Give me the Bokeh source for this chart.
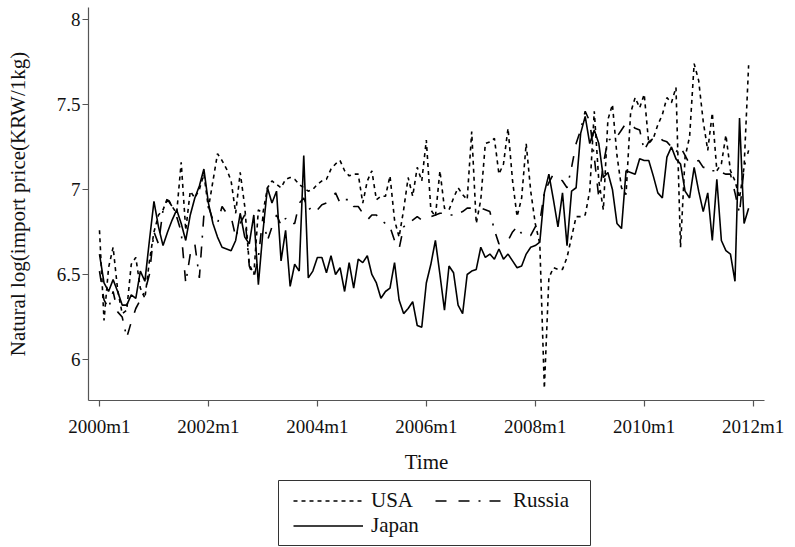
from bokeh.plotting import figure
from bokeh.models import Legend, LegendItem, FixedTicker, Range1d
from bokeh.layouts import column
from bokeh.embed import file_html
from bokeh.resources import INLINE

# ---- data (monthly, 2000m1 .. 2011m12) ----
usa = [
    6.76, 6.23, 6.54, 6.66, 6.41, 6.27, 6.29, 6.56, 6.60, 6.42, 6.36, 6.58,
    6.75, 6.85, 6.88, 6.95, 6.90, 6.86, 7.16, 6.76, 6.99, 6.95, 7.00, 7.09,
    6.89, 7.05, 7.21, 7.17, 7.12, 7.05, 6.86, 7.10, 6.90, 6.56, 6.50, 6.88,
    6.86, 7.01, 7.05, 7.03, 7.01, 7.06, 7.07, 7.06, 7.03, 7.01, 6.99, 7.00,
    7.03, 7.05, 7.06, 7.12, 7.15, 7.17, 7.11, 7.08, 7.09, 7.09, 6.92, 7.05,
    7.11, 6.94, 6.96, 6.96, 7.08, 6.82, 6.72, 6.88, 7.07, 6.96, 7.13, 7.05,
    7.29, 6.88, 6.84, 7.11, 6.89, 6.88, 6.95, 7.01, 6.97, 6.94, 7.34, 6.80,
    6.94, 7.27, 7.28, 7.30, 7.09, 7.15, 7.36, 7.05, 6.84, 6.95, 7.27, 6.99,
    6.80, 6.68, 5.83, 6.48, 6.54, 6.53, 6.53, 6.60, 6.72, 6.84, 6.84, 6.85,
    6.99, 7.46, 7.05, 6.88, 7.41, 7.50, 7.20, 7.01, 6.97, 7.45, 7.54, 7.48,
    7.56, 7.27, 7.30, 7.38, 7.44, 7.54, 7.51, 7.60, 6.66, 7.19, 7.31, 7.74,
    7.64, 7.40, 7.23, 7.45, 7.11, 7.15, 7.32, 7.11, 7.05, 6.95, 7.13, 7.73,
]
russia = [
    6.52, 6.35, 6.30, 6.40, 6.28, 6.25, 6.13, 6.22, 6.30, 6.35, 6.40, 6.50,
    6.75, 6.68, 6.88, 6.94, 6.90, 6.84, 6.75, 6.45, 6.62, 6.68, 6.48, 6.85,
    6.90, 6.82, 6.80, 6.90, 6.86, 6.84, 6.72, 6.80, 6.85, 6.55, 6.48, 6.60,
    6.84, 6.70, 6.78, 6.85, 6.79, 6.83, 6.80, 6.80, 6.92, 6.95, 6.88, 6.90,
    6.88, 6.91, 6.92, 6.94, 6.98, 6.92, 6.94, 6.94, 6.90, 6.90, 6.86, 6.82,
    6.85, 6.85, 6.82, 6.80, 6.78, 6.70, 6.65, 6.78, 6.80, 6.82, 6.84, 6.82,
    6.84, 6.84, 6.85, 6.86, 6.86, 6.85, 6.85, 6.86, 6.87, 6.89, 6.89, 6.89,
    6.89, 6.88, 6.87, 6.76, 6.68, 6.70, 6.70, 6.75, 6.78, 6.74, 6.73, 6.73,
    6.78, 6.81, 6.98, 7.04, 7.09, 7.07, 7.05, 7.01, 7.13, 7.27, 7.35, 7.46,
    7.40, 7.19, 6.95, 7.15, 7.29, 7.30, 7.31, 7.35, 7.39, 7.38, 7.36, 7.35,
    7.23, 7.28, 7.30, 7.32, 7.29, 7.28, 7.25, 7.22, 7.25, 7.20, 7.15, 7.16,
    7.17, 7.13, 7.13, 7.11, 7.11, 7.10, 7.09, 7.09, 6.98, 6.86, 7.13, 7.23,
]
japan = [
    6.62, 6.45, 6.40, 6.47, 6.40, 6.32, 6.32, 6.38, 6.36, 6.52, 6.46, 6.70,
    6.93, 6.78, 6.67, 6.75, 6.82, 6.88, 6.80, 6.70, 6.85, 6.95, 7.02, 7.12,
    6.92, 6.80, 6.72, 6.66, 6.65, 6.64, 6.70, 6.86, 6.72, 6.68, 6.85, 6.44,
    6.75, 7.01, 6.92, 6.99, 6.58, 6.76, 6.43, 6.56, 6.52, 7.20, 6.48, 6.52,
    6.60, 6.60, 6.51, 6.61, 6.50, 6.54, 6.40, 6.57, 6.42, 6.59, 6.57, 6.61,
    6.50, 6.45, 6.36, 6.40, 6.42, 6.57, 6.35, 6.27, 6.30, 6.34, 6.20, 6.19,
    6.45, 6.56, 6.70, 6.50, 6.29, 6.55, 6.51, 6.32, 6.27, 6.50, 6.52, 6.53,
    6.66, 6.60, 6.62, 6.59, 6.65, 6.59, 6.62, 6.58, 6.54, 6.55, 6.62, 6.66,
    6.67, 6.69, 6.98, 7.09, 6.94, 6.78, 6.98, 6.67, 6.99, 7.01, 7.33, 7.43,
    7.27, 7.35, 7.27, 7.07, 7.10, 7.00, 6.80, 6.77, 7.11, 7.10, 7.09, 7.18,
    7.17, 7.17, 7.08, 6.98, 6.95, 7.19, 7.25, 7.18, 7.15, 6.99, 6.95, 7.13,
    6.99, 6.87, 6.98, 6.70, 7.06, 6.70, 6.64, 6.62, 6.46, 7.42, 6.80, 6.89,
]
months = list(range(len(usa)))

series_names = ["USA", "Russia", "Japan"]
x_tick_values = [0, 24, 48, 72, 96, 120, 144]
x_tick_labels = ["2000m1", "2002m1", "2004m1", "2006m1", "2008m1", "2010m1", "2012m1"]
y_tick_values = [6, 6.5, 7, 7.5, 8]
y_tick_labels = ["6", "6.5", "7", "7.5", "8"]

FONT = "Liberation Serif"
DASHES = {"USA": "4 4", "Russia": "11 12 11 9 2 9", "Japan": "solid"}
series = dict(zip(series_names, [usa, russia, japan]))

p = figure(width=790, height=478,
           x_range=Range1d(-2.42, 146.5), y_range=Range1d(5.759, 8.07),
           output_backend="svg", toolbar_location=None,
           min_border_left=88, min_border_right=26,
           min_border_top=7, min_border_bottom=78)
p.frame_align = False

p.xgrid.visible = False
p.ygrid.visible = False
p.outline_line_color = None
p.background_fill_color = "white"
p.border_fill_color = "white"

for name in series_names:
    p.line(months, series[name], line_color="black", line_width=1.6, line_dash=DASHES[name])

for ax in (p.xaxis[0], p.yaxis[0]):
    ax.axis_line_color = "#555555"
    ax.axis_line_width = 1.2
    ax.major_tick_line_color = "#555555"
    ax.major_tick_line_width = 1.2
    ax.major_tick_in = 0
    ax.major_tick_out = 6
    ax.minor_tick_line_color = None
    ax.major_label_text_font = FONT
    ax.major_label_text_font_size = "19px"
    ax.major_label_text_color = "#111111"
    ax.axis_label_text_font = FONT
    ax.axis_label_text_font_size = "21px"
    ax.axis_label_text_font_style = "normal"
    ax.axis_label_text_color = "#111111"

p.xaxis.ticker = FixedTicker(ticks=x_tick_values)
p.xaxis.major_label_overrides = dict(zip(x_tick_values, x_tick_labels))
p.xaxis.axis_label = "Time"
p.xaxis.major_label_standoff = 9
p.xaxis.axis_label_standoff = 10

p.yaxis.ticker = FixedTicker(ticks=y_tick_values)
p.yaxis.major_label_overrides = dict(zip(y_tick_values, y_tick_labels))
p.yaxis.axis_label = "Natural log(import price(KRW/1kg)"
p.yaxis.major_label_standoff = 2
p.yaxis.axis_label_standoff = 24

# ---- legend strip below the chart (its frame outline is the legend box) ----
pl = figure(width=790, height=68,
            x_range=Range1d(0, 1), y_range=Range1d(0, 1),
            x_axis_location=None, y_axis_location=None,
            output_backend="svg", toolbar_location=None,
            min_border_left=278, min_border_right=200,
            min_border_top=2, min_border_bottom=0)
pl.frame_align = False
pl.xgrid.visible = False
pl.ygrid.visible = False
pl.outline_line_color = "#333333"
pl.outline_line_width = 1
pl.border_fill_color = "white"

items = []
for name in series_names:
    # same series, but outside this strip's visible ranges: only the key sample shows
    r = pl.line(months, series[name], line_color="black", line_width=1.6, line_dash=DASHES[name])
    items.append(LegendItem(label=name, renderers=[r]))

legend = Legend(items=items, location=(13, 6), orientation="horizontal", ncols=2,
                border_line_alpha=0, background_fill_alpha=0,
                label_text_font=FONT, label_text_font_size="21px",
                label_text_color="#111111",
                glyph_width=70, glyph_height=25, label_height=25,
                label_standoff=8, label_width=64, spacing=0, padding=2, margin=0)
pl.add_layout(legend, "center")

layout = column(p, pl, spacing=0)
open("out.html", "w").write(file_html(layout, INLINE))
